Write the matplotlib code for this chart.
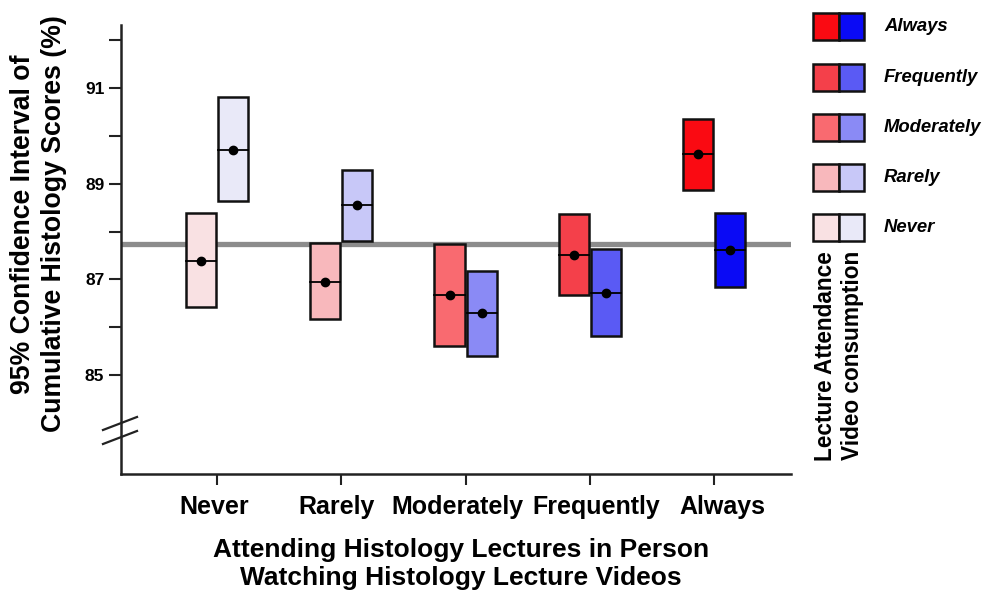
import matplotlib
matplotlib.use("Agg")
import matplotlib.pyplot as plt
from matplotlib.patches import Rectangle
from matplotlib.lines import Line2D

plt.rcParams['font.family'] = ['Liberation Sans', 'DejaVu Sans']
plt.rcParams['font.weight'] = 'bold'

categories = ["Never", "Rarely", "Moderately", "Frequently", "Always"]

# Lecture attendance (red): lower CI, mean, upper CI
att_low  = [86.42, 86.17, 85.61, 86.67, 88.86]
att_mean = [87.38, 86.94, 86.67, 87.51, 89.62]
att_high = [88.38, 87.76, 87.74, 88.36, 90.35]

# Video consumption (blue)
vid_low  = [88.63, 87.80, 85.40, 85.81, 86.84]
vid_mean = [89.70, 88.55, 86.30, 86.71, 87.61]
vid_high = [90.81, 89.28, 87.17, 87.63, 88.38]

overall_mean = 87.74

red_colors  = ['#F9E1E3', '#F8B8BC', '#F96A70', '#F4404A', '#FA0A12']
blue_colors = ['#E9E9F8', '#C8C8F8', '#8A8AF5', '#5A5AF4', '#0A0AF5']

legend_labels = ["Always", "Frequently", "Moderately", "Rarely", "Never"]

yticks_major = [85, 87, 89, 91]
yticks_minor = [86, 88, 90, 92]

W, H = 983, 593
fig = plt.figure(figsize=(W / 100, H / 100), dpi=100)
ax = fig.add_axes([121 / W, 1 - 474 / H, (791 - 121) / W, (474 - 25) / H])

box_w = 0.242
off = 0.129

ax.axhline(overall_mean, color='#8C8C8C', lw=3.8, zorder=1)

for i in range(len(categories)):
    for xc, lo, mn, hi, col in [
        (i - off, att_low[i], att_mean[i], att_high[i], red_colors[i]),
        (i + off, vid_low[i], vid_mean[i], vid_high[i], blue_colors[i]),
    ]:
        ax.add_patch(Rectangle((xc - box_w / 2, lo), box_w, hi - lo,
                               facecolor=col, edgecolor='#111111', lw=1.8, zorder=3))
        ax.plot([xc - box_w / 2, xc + box_w / 2], [mn, mn], color='black', lw=1.3, zorder=4)
        ax.plot([xc], [mn], 'o', color='black', ms=6, zorder=5)

ax.set_xlim(-0.772, 4.618)
ax.set_ylim(82.94, 92.31)
ax.set_xticks(range(len(categories)))
ax.set_xticklabels([])
all_y = yticks_major + yticks_minor
ax.set_yticks(all_y)
ax.set_yticklabels([str(v) if v in yticks_major else '' for v in all_y],
                   fontsize=12.5, fontweight='bold')

# category labels, slightly nudged horizontally as in the reference
label_shift_pt = [-2.2, -3.6, -6.1, 4.3, 6.1]
for i, (lab, dx) in enumerate(zip(categories, label_shift_pt)):
    ax.annotate(lab, xy=(i, 0), xycoords=('data', 'axes fraction'),
                xytext=(dx, -28.8), textcoords='offset points',
                ha='center', va='baseline', fontsize=18, fontweight='bold')

ax.tick_params(axis='y', length=9, width=1.5, pad=3, color='#222222')
ax.tick_params(axis='x', length=8, width=1.5, pad=8, color='#222222')
for s in ['top', 'right']:
    ax.spines[s].set_visible(False)
for s in ['left', 'bottom']:
    ax.spines[s].set_linewidth(1.8)
    ax.spines[s].set_color('#222222')

# axis break marks
for yc in [0.1125, 0.0813]:
    ax.add_line(Line2D([-0.0269, 0.0239], [yc - 0.0145, yc + 0.0145], transform=ax.transAxes,
                       color='#222222', lw=1.6, clip_on=False))

# y label (two lines)
fig.text(23 / W, 1 - 224 / H, "95% Confidence Interval of", rotation=90,
         ha='center', va='center', fontsize=19.2, fontweight='bold')
fig.text(54 / W, 1 - 224 / H, "Cumulative Histology Scores (%)", rotation=90,
         ha='center', va='center', fontsize=19.2, fontweight='bold')

# x label (two lines)
fig.text(461 / W, 1 - 550 / H, "Attending Histology Lectures in Person",
         ha='center', va='center', fontsize=19, fontweight='bold')
fig.text(461 / W, 1 - 578 / H, "Watching Histology Lecture Videos",
         ha='center', va='center', fontsize=19, fontweight='bold')

# custom legend
tops = [13, 64, 114, 164, 214]
for k, lab in enumerate(legend_labels):
    idx = len(categories) - 1 - k
    t = tops[k]
    h = 27
    fig.patches.append(Rectangle((813 / W, 1 - (t + h) / H), 26 / W, h / H,
                                 transform=fig.transFigure, facecolor=red_colors[idx],
                                 edgecolor='#111111', lw=1.8))
    fig.patches.append(Rectangle((839 / W, 1 - (t + h) / H), 25 / W, h / H,
                                 transform=fig.transFigure, facecolor=blue_colors[idx],
                                 edgecolor='#111111', lw=1.8))
    fig.text(884 / W, 1 - (t + h / 2) / H, lab, ha='left', va='center',
             fontsize=13.3, fontweight='bold', style='italic')

fig.text(826 / W, 1 - 251 / H, "Lecture Attendance", rotation=90, ha='center', va='top',
         fontsize=16.3, fontweight='bold')
fig.text(853 / W, 1 - 251 / H, "Video consumption", rotation=90, ha='center', va='top',
         fontsize=16.3, fontweight='bold')

fig.savefig("out.png", dpi=100)
